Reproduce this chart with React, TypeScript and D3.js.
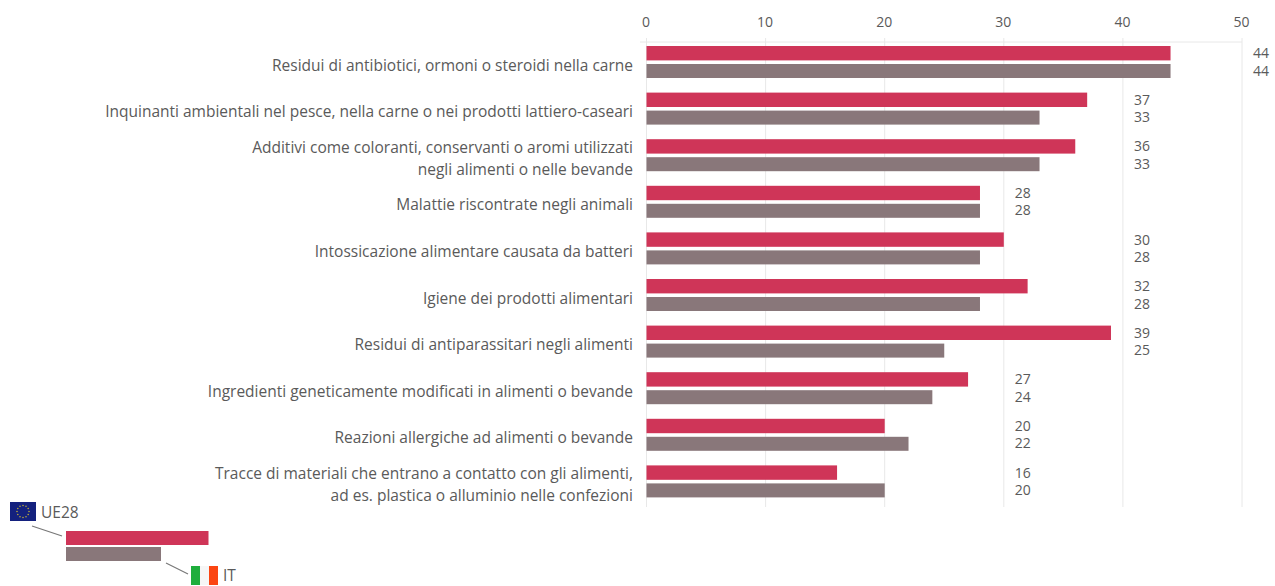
import React from "react";
import * as d3 from "d3";

const categories: string[][] = [
  ["Residui di antibiotici, ormoni o steroidi nella carne"],
  ["Inquinanti ambientali nel pesce, nella carne o nei prodotti lattiero-caseari"],
  ["Additivi come coloranti, conservanti o aromi utilizzati", "negli alimenti o nelle bevande"],
  ["Malattie riscontrate negli animali"],
  ["Intossicazione alimentare causata da batteri"],
  ["Igiene dei prodotti alimentari"],
  ["Residui di antiparassitari negli alimenti"],
  ["Ingredienti geneticamente modificati in alimenti o bevande"],
  ["Reazioni allergiche ad alimenti o bevande"],
  ["Tracce di materiali che entrano a contatto con gli alimenti,", "ad es. plastica o alluminio nelle confezioni"],
];
const ue28 = [44, 37, 36, 28, 30, 32, 39, 27, 20, 16];
const italia = [44, 33, 33, 28, 28, 28, 25, 24, 22, 20];
const ticks = [0, 10, 20, 30, 40, 50];
const legendBars = [3, 2];
const legendNames = ["UE28", "IT"];

const RED = "#cf3558";
const GREY = "#89777a";
const TEXT = "#5a5a5a";
const FONT = "'Open Sans', 'Noto Sans', sans-serif";

const W = 1275;
const H = 586;

export default function App() {
  const x = d3.scaleLinear().domain([0, 50]).range([646.5, 1242]);
  const row = d3.scaleBand<number>().domain(d3.range(categories.length)).range([41.6, 507.6]);
  const legendX = d3.scaleLinear().domain([0, 3]).range([66, 208.5]);

  // Each value pair sits in the column just past the next gridline
  const labelColumn = (a: number, b: number) => {
    const top = Math.max(a, b);
    return x(Math.max(30, (Math.floor(top / 10) + 1) * 10)) + 19;
  };

  const stars = d3.range(12).map((i) => {
    const a = (i / 12) * 2 * Math.PI;
    return { cx: 23 + 6 * Math.cos(a), cy: 511.5 + 6 * Math.sin(a) };
  });

  return (
    <svg
      width={W}
      height={H}
      viewBox={`0 0 ${W} ${H}`}
      style={{ position: "absolute", left: 0, top: 0, background: "#fff" }}
      fontFamily={FONT}
    >
      {/* Grid and top axis */}
      <line x1={640} x2={1242} y1={42} y2={42} stroke="#e8e8e8" />
      {ticks.map((t) => (
        <g key={t}>
          <line x1={x(t)} x2={x(t)} y1={38} y2={507} stroke="#e8e8e8" />
          <text x={x(t) - 0.5} y={27} textAnchor="middle" fontSize={14} fill={TEXT}>
            {t}
          </text>
        </g>
      ))}

      {categories.map((lines, i) => {
        const y0 = row(i)!;
        const mid = y0 + 23;
        return (
          <g key={i}>
            <rect x={x(0)} y={y0 + 4.4} width={x(ue28[i]) - x(0)} height={14.4} fill={RED} />
            <rect x={x(0)} y={y0 + 22.4} width={x(italia[i]) - x(0)} height={14} fill={GREY} />
            {lines.map((line, j) => (
              <text
                key={j}
                x={633}
                y={mid + 6 + (j - (lines.length - 1) / 2) * 21.5}
                textAnchor="end"
                fontSize={15.5}
                fill={TEXT}
              >
                {line}
              </text>
            ))}
            <text x={labelColumn(ue28[i], italia[i])} y={y0 + 16.5} textAnchor="middle" fontSize={14} fill={TEXT}>
              {ue28[i]}
            </text>
            <text x={labelColumn(ue28[i], italia[i])} y={y0 + 34} textAnchor="middle" fontSize={14} fill={TEXT}>
              {italia[i]}
            </text>
          </g>
        );
      })}

      {/* Key: EU flag, bars and Italian flag */}
      <rect x={10} y={502} width={26} height={19} fill="#14217e" />
      {stars.map((s, i) => (
        <circle key={i} cx={s.cx} cy={s.cy} r={0.8} fill="#b9a93c" />
      ))}
      <text x={41} y={518} fontSize={15.5} fill={TEXT}>
        {legendNames[0]}
      </text>
      <line x1={32} y1={526} x2={62} y2={536} stroke="#777" strokeWidth={1.2} />
      <rect x={legendX(0)} y={531} width={legendX(legendBars[0]) - legendX(0)} height={14} fill={RED} />
      <rect x={legendX(0)} y={547} width={legendX(legendBars[1]) - legendX(0)} height={14} fill={GREY} />
      <line x1={166} y1={563} x2={188} y2={574} stroke="#777" strokeWidth={1.2} />
      <rect x={191} y={566} width={9} height={19} fill="#1fae3c" />
      <rect x={200} y={566} width={9} height={19} fill="#f6f6f6" />
      <rect x={209} y={566} width={9} height={19} fill="#fb4512" />
      <text x={223} y={581} fontSize={15.5} fill={TEXT}>
        {legendNames[1]}
      </text>
    </svg>
  );
}
